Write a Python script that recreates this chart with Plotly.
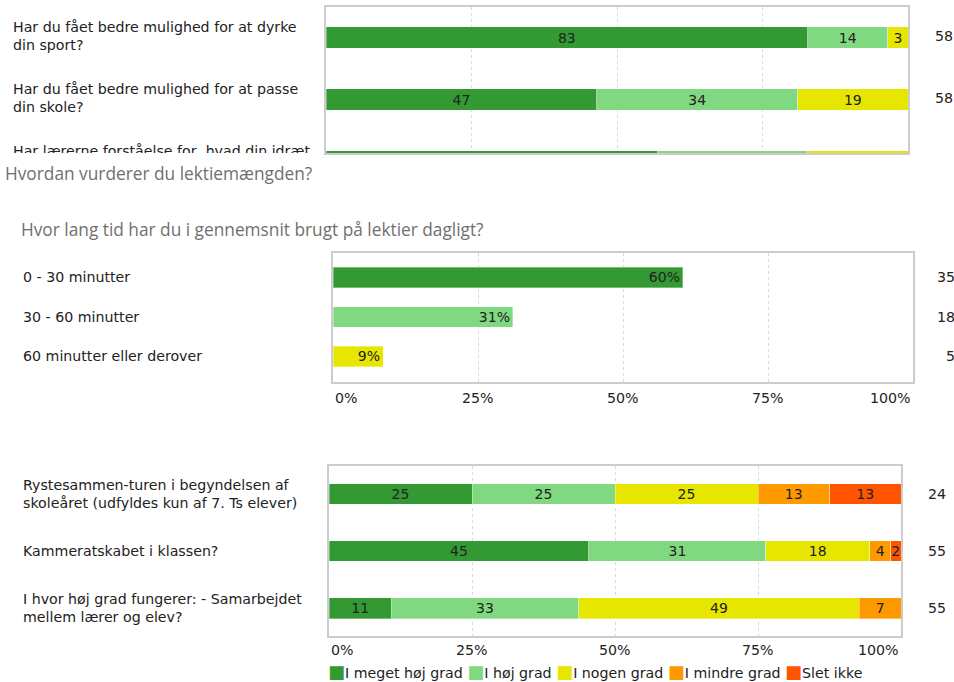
import plotly.graph_objects as go

W, H = 954, 682

# ---------------- data ----------------
CAT_LABELS = ["I meget høj grad", "I høj grad", "I nogen grad", "I mindre grad", "Slet ikke"]
CAT_COLORS = ["#339933", "#80d980", "#e6e600", "#ff9900", "#ff5500"]

# Panel A (top, partly cut off)
A_QUESTIONS = [
    "Har du fået bedre mulighed for at dyrke<br>din sport?",
    "Har du fået bedre mulighed for at passe<br>din skole?",
    "Har lærerne forståelse for, hvad din idræt<br>kræver?",
]
A_N = [58, 58, 58]
A_MEGET_HOJ = [82.76, 46.55, 56.90]
A_HOJ = [13.79, 34.48, 25.86]
A_NOGEN = [3.45, 18.97, 17.24]

# Panel B (only title and top of frame visible)
B_TITLE = "Hvordan vurderer du lektiemængden?"

# Panel C
C_TITLE = "Hvor lang tid har du i gennemsnit brugt på lektier dagligt?"
C_OPTIONS = ["0 - 30 minutter", "30 - 60 minutter", "60 minutter eller derover"]
C_PERCENT = [60.34, 31.03, 8.62]
C_N = [35, 18, 5]

# Panel D
D_QUESTIONS = [
    "Rystesammen-turen i begyndelsen af<br>skoleåret (udfyldes kun af 7. Ts elever)",
    "Kammeratskabet i klassen?",
    "I hvor høj grad fungerer: - Samarbejdet<br>mellem lærer og elev?",
]
D_N = [24, 55, 55]
D_MEGET_HOJ = [25.0, 45.45, 10.91]
D_HOJ = [25.0, 30.91, 32.73]
D_NOGEN = [25.0, 18.18, 49.09]
D_MINDRE = [12.5, 3.64, 7.27]
D_SLET = [12.5, 1.82, 0.0]

TICKS = [0, 25, 50, 75, 100]

# ---------------- style ----------------
FONT = "DejaVu Sans"
TXT = "#222222"
TITLE_FONT = "Open Sans"
TITLE_SIZE = 17.3
FS = 14.2


def dom_x(a, b):
    return [a / W, b / W]


def dom_y(top, bottom):
    return [1 - bottom / H, 1 - top / H]


def rnd(v):
    return "" if v <= 0 else str(int(v + 0.5))


fig = go.Figure()

ROWS = [0, 1, 2]
BAR_EDGE = dict(color="rgba(255,255,255,0.35)", width=1)
BAR_TXT = dict(family=FONT, size=14, color=TXT)

# Panel A bars
for vals, col in zip([A_MEGET_HOJ, A_HOJ, A_NOGEN], CAT_COLORS):
    fig.add_trace(go.Bar(
        x=vals, y=ROWS, orientation="h", xaxis="x", yaxis="y",
        marker=dict(color=col, line=BAR_EDGE), width=0.339,
        text=[rnd(v) for v in vals], textposition="inside", insidetextanchor="middle",
        textangle=0, constraintext="none", textfont=BAR_TXT,
        showlegend=False, hoverinfo="skip"))

# Panel A labels / counts (clipped to the panel's band)
fig.add_trace(go.Scatter(
    x=[13] * 3, y=ROWS, xaxis="x2", yaxis="y2", mode="text", text=A_QUESTIONS,
    textposition="middle right", cliponaxis=True,
    textfont=dict(family=FONT, size=FS, color=TXT), showlegend=False, hoverinfo="skip"))
fig.add_trace(go.Scatter(
    x=[935] * 3, y=ROWS, xaxis="x2", yaxis="y2", mode="text", text=[str(n) for n in A_N],
    textposition="middle right", cliponaxis=True,
    textfont=dict(family=FONT, size=FS, color=TXT), showlegend=False, hoverinfo="skip"))

# Panel C bars
fig.add_trace(go.Bar(
    x=C_PERCENT, y=ROWS, orientation="h", xaxis="x4", yaxis="y4",
    marker=dict(color=CAT_COLORS[:3], line=BAR_EDGE), width=0.53,
    texttemplate="%{x:.0f}%", textposition="inside", insidetextanchor="end",
    textangle=0, constraintext="none", textfont=BAR_TXT,
    showlegend=False, hoverinfo="skip"))

# Panel D bars
for vals, col in zip([D_MEGET_HOJ, D_HOJ, D_NOGEN, D_MINDRE, D_SLET], CAT_COLORS):
    fig.add_trace(go.Bar(
        x=vals, y=ROWS, orientation="h", xaxis="x5", yaxis="y5",
        marker=dict(color=col, line=BAR_EDGE), width=0.368,
        text=[rnd(v) for v in vals], textposition="inside", insidetextanchor="middle",
        textangle=0, constraintext="none", textfont=BAR_TXT,
        showlegend=False, hoverinfo="skip"))

GRID = dict(showgrid=True, gridcolor="#d9d9d9", griddash="dot", gridwidth=1,
            tickvals=TICKS, showticklabels=False, zeroline=False, ticks="")
FRAME = dict(showline=True, linecolor="#cccccc", linewidth=1.5, mirror=True)

layout = dict(
    width=W, height=H, margin=dict(l=0, r=0, t=0, b=0),
    paper_bgcolor="white", plot_bgcolor="rgba(0,0,0,0)",
    barmode="stack", showlegend=False,
    font=dict(family=FONT, size=FS, color=TXT),
    # Panel A
    xaxis=dict(domain=dom_x(326, 908), range=[0, 100], anchor="y", **GRID, **FRAME),
    yaxis=dict(domain=dom_y(7, 153), range=[1.863, -0.492], anchor="x",
               showgrid=False, showticklabels=False, zeroline=False, ticks="", **FRAME),
    xaxis2=dict(domain=[0, 1], range=[0, W], anchor="y2", visible=False),
    yaxis2=dict(domain=dom_y(7, 153), range=[1.863, -0.492], anchor="x2", visible=False),
    # Panel B fragment
    xaxis3=dict(domain=dom_x(317, 898), range=[0, 100], anchor="y3", side="top",
                showline=True, linecolor="#cccccc", linewidth=1.5, mirror=False,
                showgrid=True, gridcolor="#d9d9d9", griddash="dot",
                tickvals=[25, 50, 75], showticklabels=False, zeroline=False, ticks=""),
    yaxis3=dict(domain=dom_y(195, 206), range=[0, 1], anchor="x3", showgrid=False,
                showticklabels=False, zeroline=False, ticks="",
                showline=True, linecolor="#cccccc", linewidth=1.5, mirror=True),
    # Panel C
    xaxis4=dict(domain=dom_x(333, 913), range=[0, 100], anchor="y4", **GRID, **FRAME),
    yaxis4=dict(domain=dom_y(253, 382), range=[2.646, -0.62], anchor="x4",
                showgrid=False, showticklabels=False, zeroline=False, ticks="", **FRAME),
    # Panel D
    xaxis5=dict(domain=dom_x(329, 901), range=[0, 100], anchor="y5", **GRID, **FRAME),
    yaxis5=dict(domain=dom_y(466, 636), range=[2.491, -0.491], anchor="x5",
                showgrid=False, showticklabels=False, zeroline=False, ticks="", **FRAME),
)
fig.update_layout(**layout)

ann = []
# titles
ann.append(dict(text=B_TITLE, x=3 / W, y=1 - 173 / H, xref="paper", yref="paper",
                xanchor="left", yanchor="middle", showarrow=False,
                font=dict(family=TITLE_FONT, size=TITLE_SIZE, color="#707070")))
ann.append(dict(text=C_TITLE, x=19 / W, y=1 - 230 / H, xref="paper", yref="paper",
                xanchor="left", yanchor="middle", showarrow=False,
                font=dict(family=TITLE_FONT, size=TITLE_SIZE, color="#707070")))

# panel C labels / counts
for i, (lab, n) in enumerate(zip(C_OPTIONS, C_N)):
    ann.append(dict(text=lab, x=21 / W, y=i, xref="paper", yref="y4", xanchor="left",
                    yanchor="middle", align="left", showarrow=False))
    ann.append(dict(text=str(n), x=957 / W, y=i, xref="paper", yref="y4", xanchor="right",
                    yanchor="middle", showarrow=False))
# panel D labels / counts
for i, (lab, n) in enumerate(zip(D_QUESTIONS, D_N)):
    ann.append(dict(text=lab, x=21 / W, y=i, xref="paper", yref="y5", xanchor="left",
                    yanchor="middle", align="left", showarrow=False))
    ann.append(dict(text=str(n), x=926 / W, y=i, xref="paper", yref="y5", xanchor="left",
                    yanchor="middle", showarrow=False))

# tick labels
for xa, ypx in [("x4", 398), ("x5", 650)]:
    for t in TICKS:
        anchor = "left" if t == 0 else ("right" if t == 100 else "center")
        ann.append(dict(text=f"{t}%", x=t, y=1 - ypx / H, xref=xa, yref="paper",
                        xanchor=anchor, yanchor="middle", showarrow=False))

# legend
parts = []
for lab, col in zip(CAT_LABELS, CAT_COLORS):
    parts.append(f"<span style='color:{col};font-size:18px'>■</span>{lab}")
ann.append(dict(text=" ".join(parts), x=326 / W, y=1 - 671 / H, xref="paper", yref="paper",
                xanchor="left", yanchor="middle", showarrow=False))

fig.update_layout(annotations=ann)
fig.write_html("out.html", config={"displayModeBar": False},
               post_script="document.body.style.margin='0';")
